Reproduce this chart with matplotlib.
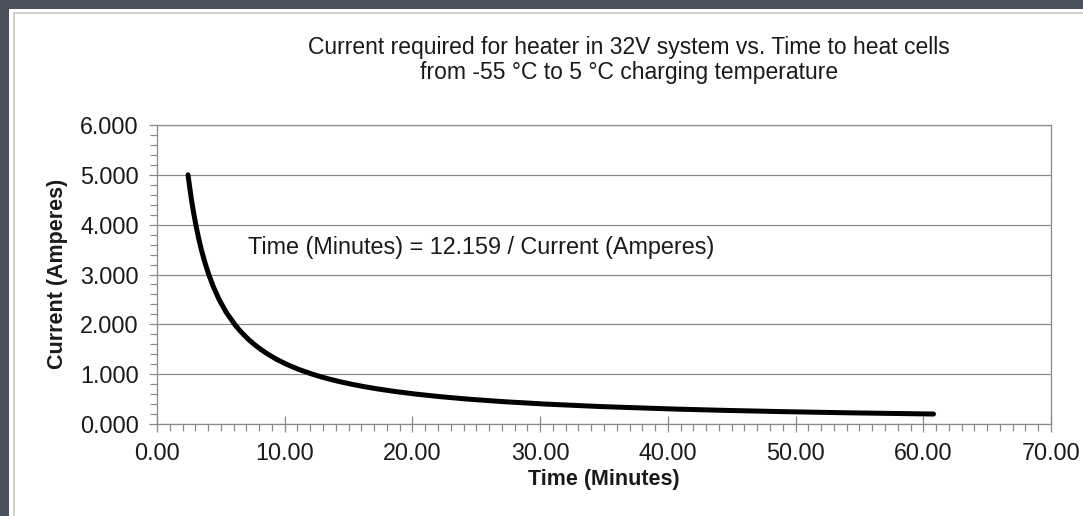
import numpy as np
import matplotlib.pyplot as plt
from matplotlib.patches import Rectangle
from matplotlib.ticker import MultipleLocator, FormatStrFormatter

# Heater current vs. time points
current_amps = [5.00, 4.75, 4.50, 4.25, 4.00, 3.75, 3.50, 3.25, 3.00, 2.75,
                2.50, 2.25, 2.00, 1.90, 1.80, 1.70, 1.60, 1.50, 1.40, 1.30,
                1.20, 1.10, 1.00, 0.95, 0.90, 0.85, 0.80, 0.75, 0.70, 0.65,
                0.60, 0.55, 0.50, 0.45, 0.40, 0.35, 0.30, 0.275, 0.25, 0.225, 0.20]
time_minutes = [2.43, 2.56, 2.70, 2.86, 3.04, 3.24, 3.47, 3.74, 4.05, 4.42,
                4.86, 5.40, 6.08, 6.40, 6.76, 7.15, 7.60, 8.11, 8.69, 9.35,
                10.13, 11.05, 12.16, 12.80, 13.51, 14.30, 15.20, 16.21, 17.37, 18.71,
                20.27, 22.11, 24.32, 27.02, 30.40, 34.74, 40.53, 44.22, 48.64, 54.04, 60.80]

title_text = ("Current required for heater in 32V system vs. Time to heat cells\n"
              "from -55 \u00b0C to 5 \u00b0C charging temperature")
equation_text = "Time (Minutes) = 12.159 / Current (Amperes)"

plt.rcParams['font.family'] = ['Liberation Sans', 'DejaVu Sans']

W, H = 1083, 516
fig = plt.figure(figsize=(W / 100, H / 100), dpi=100, facecolor='#4a515c')

# white chart panel with a thin light border (behind the axes)
fig.patches.append(Rectangle((9 / W, 0), 1, (H - 9) / H, transform=fig.transFigure,
                             facecolor='white', edgecolor='none', zorder=-3))
fig.patches.append(Rectangle((14 / W, -0.01), 1, (H - 13) / H + 0.01, transform=fig.transFigure,
                             facecolor='none', edgecolor='#c8c8c8', lw=1.2, zorder=-2))

ax = fig.add_axes([157 / W, (H - 424) / H, (1051 - 157) / W, (424 - 125) / H])
ax.set_facecolor('white')

ax.plot(time_minutes, current_amps, color='black', lw=3.6,
        solid_capstyle='round', solid_joinstyle='round', zorder=3)

ax.set_xlim(0, 70)
ax.set_ylim(0, 6)
ax.xaxis.set_major_locator(MultipleLocator(10))
ax.xaxis.set_minor_locator(MultipleLocator(1))
ax.yaxis.set_major_locator(MultipleLocator(1))
ax.yaxis.set_minor_locator(MultipleLocator(0.2))
ax.xaxis.set_major_formatter(FormatStrFormatter('%.2f'))
ax.yaxis.set_major_formatter(FormatStrFormatter('%.3f'))

ax.grid(True, axis='y', which='major', color='#8a8a8a', lw=0.9)
for s in ax.spines.values():
    s.set_color('#8a8a8a')
    s.set_linewidth(0.9)

ax.tick_params(axis='x', which='major', direction='inout', length=12, width=0.9,
               color='#8a8a8a', labelsize=16.8, pad=7, labelcolor='#1a1a1a')
ax.tick_params(axis='x', which='minor', direction='out', length=5, width=0.9, color='#8a8a8a')
ax.tick_params(axis='y', which='major', direction='out', length=6, width=0.9,
               color='#8a8a8a', labelsize=16.8, pad=7, labelcolor='#1a1a1a')
ax.tick_params(axis='y', which='minor', direction='out', length=5, width=0.9, color='#8a8a8a')

ax.text(7.1, 3.55, equation_text, fontsize=16.8, color='#1a1a1a', ha='left', va='center')

fig.text(629 / W, 1 - 60 / H, title_text, fontsize=16.5, color='#1a1a1a',
         ha='center', va='center', linespacing=1.1)
fig.text(604 / W, 1 - 480 / H, "Time (Minutes)", fontsize=15.5, fontweight='bold',
         color='#1a1a1a', ha='center', va='center')
fig.text(57 / W, 1 - 274 / H, "Current (Amperes)", fontsize=15.5, fontweight='bold',
         color='#1a1a1a', ha='center', va='center', rotation=90)

fig.savefig('out.png', dpi=100, facecolor=fig.get_facecolor())
